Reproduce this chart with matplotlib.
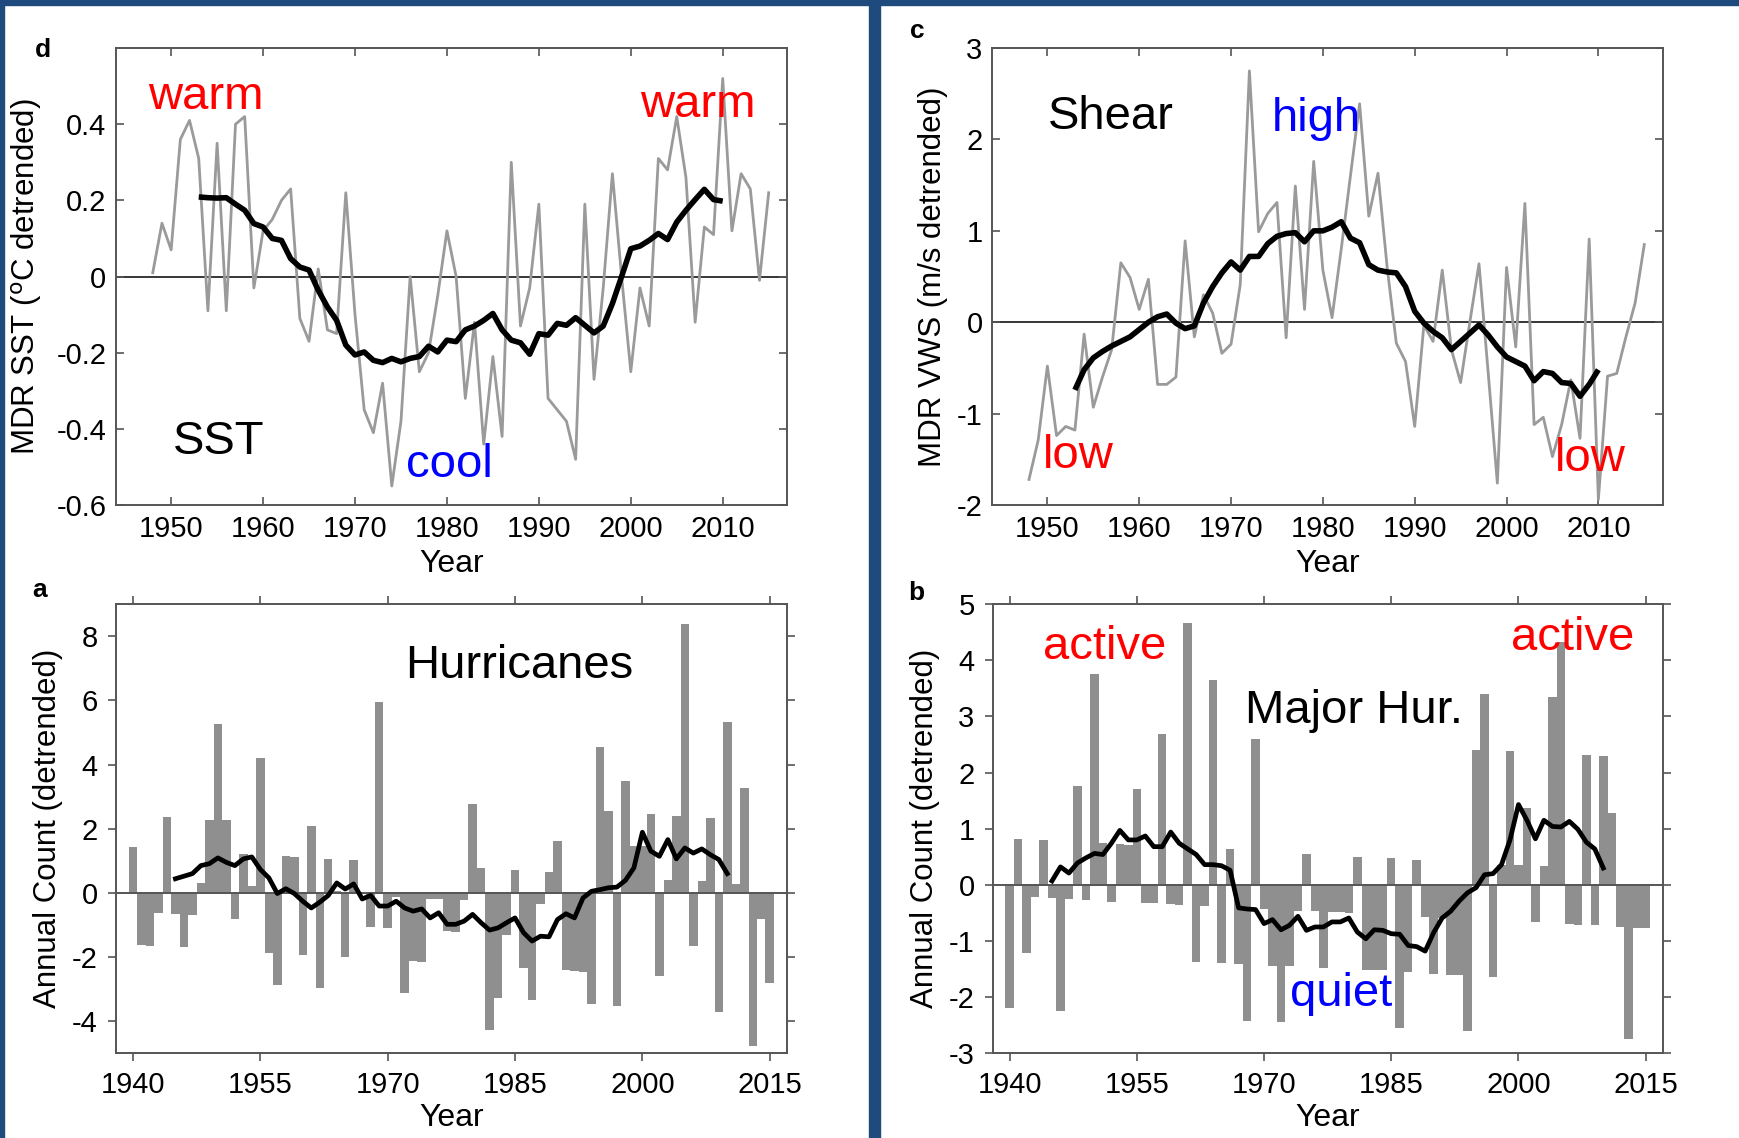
import matplotlib.pyplot as plt
import numpy as np
from matplotlib.patches import Rectangle

plt.rcParams['font.family'] = ['Liberation Sans', 'DejaVu Sans']
plt.rcParams['axes.unicode_minus'] = False

# panel d: MDR SST, annual values and smoothed curve
sst_years = np.arange(1948, 2016)
sst = [0.01, 0.14, 0.07, 0.36, 0.41, 0.31, -0.09, 0.35, -0.09, 0.40,
       0.42, -0.03, 0.12, 0.15, 0.20, 0.23, -0.11, -0.17, 0.02, -0.14,
       -0.15, 0.22, -0.10, -0.35, -0.41, -0.28, -0.55, -0.38, 0.00, -0.25,
       -0.20, -0.05, 0.12, 0.00, -0.32, -0.12, -0.44, -0.21, -0.42, 0.30,
       -0.13, -0.03, 0.19, -0.32, -0.35, -0.38, -0.48, 0.19, -0.27, -0.03,
       0.27, 0.00, -0.25, -0.03, -0.13, 0.31, 0.28, 0.42, 0.26, -0.12,
       0.13, 0.11, 0.52, 0.12, 0.27, 0.23, -0.01, 0.22]
sst_smooth_years = np.arange(1953, 2011)
sst_smooth = [0.209, 0.207, 0.206, 0.207, 0.19, 0.174, 0.139, 0.13, 0.10, 0.095,
              0.047, 0.025, 0.017, -0.036, -0.08, -0.115, -0.18, -0.206, -0.198, -0.22,
              -0.226, -0.215, -0.224, -0.215, -0.21, -0.183, -0.198, -0.167, -0.171, -0.14,
              -0.13, -0.115, -0.097, -0.14, -0.167, -0.174, -0.204, -0.15, -0.154, -0.123,
              -0.128, -0.108, -0.128, -0.148, -0.13, -0.071, 0.0, 0.073, 0.08, 0.095,
              0.113, 0.097, 0.143, 0.174, 0.202, 0.229, 0.202, 0.198]

# panel c: MDR vertical wind shear
vws_years = np.arange(1948, 2016)
vws = [-1.72, -1.29, -0.48, -1.24, -1.14, -1.18, -0.13, -0.93, -0.60, -0.30,
       0.65, 0.49, 0.14, 0.47, -0.68, -0.68, -0.60, 0.89, -0.16, 0.30,
       0.10, -0.34, -0.24, 0.41, 2.75, 0.99, 1.19, 1.31, -0.17, 1.49,
       0.14, 1.76, 0.57, 0.05, 0.80, 1.60, 2.39, 1.16, 1.63, 0.60,
       -0.23, -0.43, -1.14, -0.03, -0.21, 0.57, -0.30, -0.66, 0.00, 0.64,
       -0.55, -1.76, 0.60, -0.27, 1.30, -1.12, -1.04, -1.47, -1.12, -0.63,
       -1.27, 0.91, -1.94, -0.59, -0.56, -0.16, 0.21, 0.85]
vws_smooth_years = np.arange(1953, 2011)
vws_smooth = [-0.74, -0.52, -0.39, -0.32, -0.26, -0.21, -0.16, -0.08, 0.0, 0.06,
              0.09, -0.01, -0.07, -0.04, 0.21, 0.39, 0.54, 0.66, 0.57, 0.72,
              0.72, 0.86, 0.94, 0.97, 0.98, 0.88, 1.0, 1.0, 1.04, 1.1,
              0.92, 0.87, 0.63, 0.57, 0.55, 0.54, 0.39, 0.12, -0.01, -0.1,
              -0.17, -0.3, -0.21, -0.12, -0.03, -0.14, -0.27, -0.38, -0.43, -0.48,
              -0.64, -0.54, -0.56, -0.66, -0.67, -0.81, -0.68, -0.52]

# panel a: hurricane counts (detrended)
hur_years = np.arange(1940, 2016)
hur = [1.43, -1.63, -1.64, -0.64, 2.36, -0.67, -1.70, -0.70, 0.31, 2.28,
       5.26, 2.26, -0.80, 1.22, 0.21, 4.19, -1.87, -2.88, 1.14, 1.12,
       -1.93, 2.09, -2.95, 1.07, 0.05, -2.00, 1.02, -0.02, -1.06, 5.96,
       -1.09, -0.12, -3.12, -2.12, -2.14, -0.19, -0.19, -1.19, -1.21, -0.23,
       2.78, 0.78, -4.27, -3.28, -1.30, 0.70, -2.34, -3.35, -0.36, 0.64,
       1.63, -2.41, -2.44, -2.46, -3.47, 4.54, 2.54, -3.52, 3.49, 1.47,
       1.45, 2.46, -2.59, 0.41, 2.40, 8.39, -1.66, 0.36, 2.33, -3.71,
       5.31, 0.29, 3.28, -4.77, -0.80, -2.80]
hur_smooth_years = np.arange(1945, 2011)
hur_smooth = [0.44, 0.52, 0.60, 0.85, 0.91, 1.09, 0.95, 0.85, 1.06, 1.12,
              0.73, 0.47, -0.02, 0.13, -0.02, -0.26, -0.47, -0.29, -0.08, 0.31,
              0.12, 0.28, -0.19, -0.08, -0.41, -0.41, -0.26, -0.47, -0.57, -0.50,
              -0.78, -0.62, -0.98, -0.98, -0.88, -0.67, -0.93, -1.16, -1.09, -0.93,
              -0.78, -1.24, -1.50, -1.35, -1.37, -0.83, -0.65, -0.78, -0.16, 0.05,
              0.10, 0.16, 0.18, 0.39, 0.78, 1.89, 1.30, 1.14, 1.66, 1.06,
              1.40, 1.24, 1.37, 1.19, 1.04, 0.60]

# panel b: major hurricane counts (detrended)
maj_years = np.arange(1940, 2016)
maj = [-2.20, 0.82, -1.21, -0.22, 0.80, -0.24, -2.25, -0.25, 1.76, -0.27,
       3.75, 0.74, -0.30, 0.72, 0.71, 1.71, -0.32, -0.33, 2.69, -0.34,
       -0.35, 4.67, -1.37, -0.37, 3.65, -1.39, 0.63, -1.41, -2.42, 2.60,
       -0.43, -1.44, -2.45, -1.45, -0.46, 0.55, -0.47, -1.48, -0.49, -0.49,
       -0.50, 0.50, -1.51, -1.52, -1.52, 0.48, -2.55, -1.55, 0.45, -0.58,
       -1.58, -0.59, -1.60, -1.61, -2.61, 2.41, 3.40, -1.64, 0.35, 2.38,
       0.36, 1.36, -0.66, 0.34, 3.34, 4.32, -0.69, -0.71, 2.31, -0.72,
       2.29, 1.28, -0.75, -2.75, -0.77, -0.77]
maj_smooth_years = np.arange(1945, 2011)
maj_smooth = [0.07, 0.32, 0.21, 0.39, 0.48, 0.56, 0.54, 0.74, 0.97, 0.80,
              0.80, 0.87, 0.68, 0.68, 0.94, 0.74, 0.64, 0.54, 0.36, 0.36,
              0.34, 0.26, -0.41, -0.43, -0.44, -0.69, -0.62, -0.80, -0.72, -0.56,
              -0.81, -0.75, -0.75, -0.66, -0.66, -0.59, -0.84, -0.96, -0.80, -0.81,
              -0.87, -0.88, -1.08, -1.10, -1.18, -0.85, -0.59, -0.47, -0.29, -0.14,
              -0.05, 0.18, 0.20, 0.36, 0.80, 1.43, 1.15, 0.82, 1.15, 1.04,
              1.03, 1.13, 0.99, 0.76, 0.64, 0.30]

navy = '#1f4a7e'
gray_line = '#9a9a9a'
bar_gray = '#8f8f8f'
frame = '#555555'
tick_fs = 21
xlabel_fs = 23
ylabel_fs = 22.5
note_fs = 34

fig = plt.figure(figsize=(17.39, 11.38), dpi=100)

# navy frame around the figure and divider between columns
fig.patches.append(Rectangle((0, 1 - 5 / 1138), 1, 5 / 1138, transform=fig.transFigure,
                             color=navy, zorder=10))
fig.patches.append(Rectangle((0, 0), 4 / 1739, 1, transform=fig.transFigure,
                             color=navy, zorder=10))
fig.patches.append(Rectangle((869 / 1739, 0), 11 / 1739, 1, transform=fig.transFigure,
                             color=navy, zorder=10))

axd = fig.add_axes([0.0667, 0.5562, 0.3859, 0.4016])
axc = fig.add_axes([0.5706, 0.5562, 0.3855, 0.4016])
axa = fig.add_axes([0.0667, 0.0744, 0.3857, 0.3948])
axb = fig.add_axes([0.5708, 0.0744, 0.3853, 0.3948])


def style(ax, direction):
    for s in ax.spines.values():
        s.set_color(frame)
        s.set_linewidth(1.4)
    ax.tick_params(direction=direction, top=True, right=True, length=6, width=1.2,
                   color=frame, labelsize=tick_fs, pad=7)


# --- d: SST
axd.plot(sst_years, sst, color=gray_line, lw=2.0)
axd.plot(sst_smooth_years, sst_smooth, color='black', lw=4.0, solid_capstyle='butt')
axd.axhline(0, color='black', lw=1.1, zorder=1)
axd.set_xlim(1944, 2017)
axd.set_ylim(-0.6, 0.6)
axd.set_xticks(np.arange(1950, 2011, 10))
axd.set_yticks([-0.6, -0.4, -0.2, 0, 0.2, 0.4])
axd.set_yticklabels(['-0.6', '-0.4', '-0.2', '0', '0.2', '0.4'])
style(axd, 'in')
axd.set_xlabel('Year', fontsize=xlabel_fs)
axd.set_ylabel('MDR SST ($^{\\rm o}$C detrended)', fontsize=ylabel_fs)
axd.xaxis.set_label_coords(0.5, -0.096)
axd.yaxis.set_label_coords(-0.107, 0.5)
axd.text(1947.5, 0.441, 'warm', color='red', fontsize=note_fs)
axd.text(2001.0, 0.419, 'warm', color='red', fontsize=note_fs)
axd.text(1950.2, -0.466, 'SST', color='black', fontsize=note_fs)
axd.text(1975.5, -0.526, 'cool', color='blue', fontsize=note_fs)

# --- c: VWS
axc.plot(vws_years, vws, color=gray_line, lw=2.0)
axc.plot(vws_smooth_years, vws_smooth, color='black', lw=4.0, solid_capstyle='butt')
axc.axhline(0, color='black', lw=1.1, zorder=1)
axc.set_xlim(1944, 2017)
axc.set_ylim(-2, 3)
axc.set_xticks(np.arange(1950, 2011, 10))
axc.set_yticks(np.arange(-2, 4, 1))
style(axc, 'in')
axc.set_xlabel('Year', fontsize=xlabel_fs)
axc.set_ylabel('MDR VWS (m/s detrended)', fontsize=ylabel_fs)
axc.xaxis.set_label_coords(0.5, -0.096)
axc.yaxis.set_label_coords(-0.066, 0.5)
axc.text(1950.1, 2.11, 'Shear', color='black', fontsize=note_fs)
axc.text(1974.4, 2.095, 'high', color='blue', fontsize=note_fs)
axc.text(1949.5, -1.60, 'low', color='red', fontsize=note_fs)
axc.text(2005.3, -1.63, 'low', color='red', fontsize=note_fs)

# --- a: hurricanes
axa.bar(hur_years, hur, width=1.0, color=bar_gray, linewidth=0)
axa.axhline(0, color=frame, lw=1.4, zorder=2.5)
axa.plot(hur_smooth_years, hur_smooth, color='black', lw=3.4, zorder=3)
axa.set_xlim(1938, 2017)
axa.set_ylim(-5, 9)
axa.set_xticks(np.arange(1940, 2016, 15))
axa.set_yticks(np.arange(-4, 9, 2))
style(axa, 'out')
axa.set_xlabel('Year', fontsize=xlabel_fs)
axa.set_ylabel('Annual Count (detrended)', fontsize=ylabel_fs)
axa.xaxis.set_label_coords(0.5, -0.111)
axa.yaxis.set_label_coords(-0.079, 0.5)
axa.text(1972.0, 6.69, 'Hurricanes', color='black', fontsize=note_fs)

# --- b: major hurricanes
axb.bar(maj_years, maj, width=1.0, color=bar_gray, linewidth=0)
axb.axhline(0, color=frame, lw=1.4, zorder=2.5)
axb.plot(maj_smooth_years, maj_smooth, color='black', lw=3.4, zorder=3)
axb.set_xlim(1938, 2017)
axb.set_ylim(-3, 5)
axb.set_xticks(np.arange(1940, 2016, 15))
axb.set_yticks(np.arange(-3, 6, 1))
style(axb, 'out')
axb.set_xlabel('Year', fontsize=xlabel_fs)
axb.set_ylabel('Annual Count (detrended)', fontsize=ylabel_fs)
axb.xaxis.set_label_coords(0.5, -0.111)
axb.yaxis.set_label_coords(-0.078, 0.5)
axb.text(1943.9, 4.02, 'active', color='red', fontsize=note_fs)
axb.text(1999.1, 4.18, 'active', color='red', fontsize=note_fs)
axb.text(1967.75, 2.88, 'Major Hur.', color='black', fontsize=note_fs)
axb.text(1973.1, -2.16, 'quiet', color='blue', fontsize=note_fs)

# panel letters
fig.text(35 / 1739, 1 - 57 / 1138, 'd', fontsize=19, fontweight='bold')
fig.text(910 / 1739, 1 - 38 / 1138, 'c', fontsize=19, fontweight='bold')
fig.text(32 / 1739, 1 - 597 / 1138, 'a', fontsize=19, fontweight='bold')
fig.text(908 / 1739, 1 - 600 / 1138, 'b', fontsize=19, fontweight='bold')

fig.savefig('out.png', dpi=100)
